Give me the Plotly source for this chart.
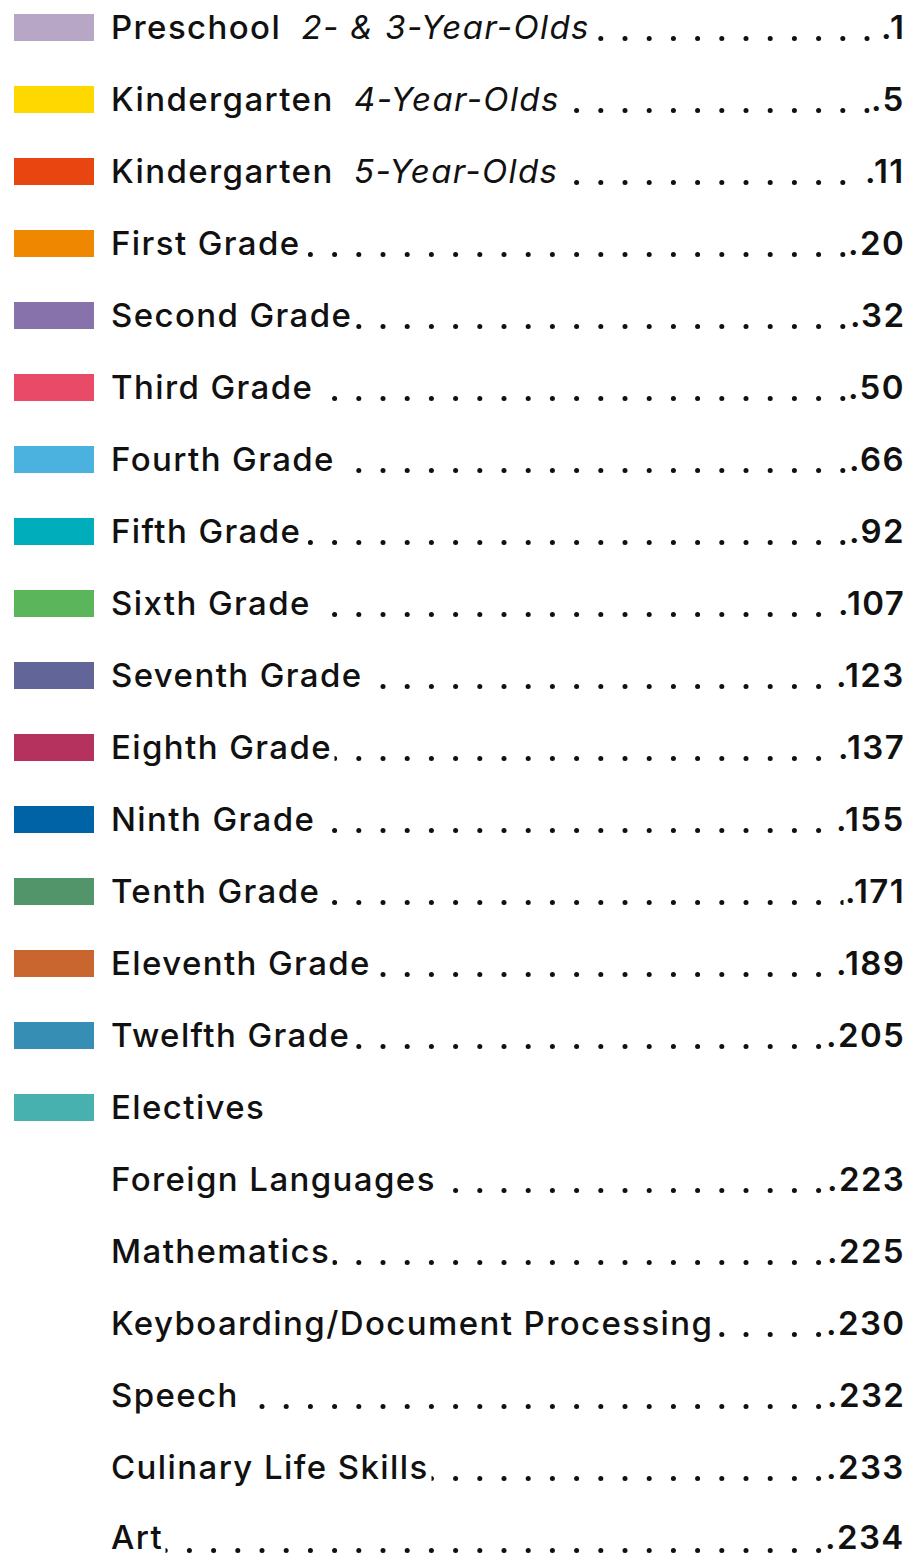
import numpy as np
import plotly.graph_objects as go

# ---- data ----
titles = ["Preschool", "Kindergarten", "Kindergarten", "First Grade", "Second Grade",
          "Third Grade", "Fourth Grade", "Fifth Grade", "Sixth Grade", "Seventh Grade",
          "Eighth Grade", "Ninth Grade", "Tenth Grade", "Eleventh Grade", "Twelfth Grade",
          "Electives", "Foreign Languages", "Mathematics", "Keyboarding/Document Processing",
          "Speech", "Culinary Life Skills", "Art"]
subtitles = ["2- &amp; 3-Year-Olds", "4-Year-Olds", "5-Year-Olds"] + [""] * 19
pages = ["1", "5", "11", "20", "32", "50", "66", "92", "107", "123", "137", "155",
         "171", "189", "205", "", "223", "225", "230", "232", "233", "234"]
swatch_colors = ["#b8a6c6", "#ffd800", "#e84510", "#f08700", "#8872ac", "#e94a68",
                 "#4bb2e0", "#00adbb", "#5bb55a", "#616598", "#b5325f", "#0063a6",
                 "#52956b", "#c9652e", "#378eb5", "#47b1b0"]

# page is offset by the default 8px body margin; coordinates below are page pixels
OFF = 8
W, H = 919, 1556
ROW = 72.0
FIRST = 27.0
TXT = "#111111"
FONT = "Inter"
FS = 33
LS = "letter-spacing:1.4px"

rows = list(range(len(titles)))
fig = go.Figure()

# colour swatches
fig.add_trace(go.Bar(
    orientation="h", y=rows[:len(swatch_colors)], x=[80] * len(swatch_colors), base=14,
    width=27 / ROW, marker=dict(color=swatch_colors, line=dict(width=0)),
    hoverinfo="skip", showlegend=False))

# leader dots (masked by the text boxes)
grid = np.arange(867, 110, -24.2)
dx, dy = [], []
for r, p in zip(rows, pages):
    if p:
        dx += list(grid)
        dy += [r + 11.5 / ROW] * len(grid)
fig.add_trace(go.Scatter(x=dx, y=dy, mode="markers",
                         marker=dict(size=5, color=TXT, line=dict(width=0)),
                         hoverinfo="skip", showlegend=False))

last = len(titles) - 1
ann = []
for r, t, s, p in zip(rows, titles, subtitles, pages):
    text = f"<span style='{LS}'>" + t
    if s:
        text += "\u00a0\u00a0</span><span style='font-weight:400;font-style:italic;" + LS + "'>" + s
    text += "</span>"
    ys = 2 if r == last else 0
    ann.append(dict(x=108, y=r, xref="x", yref="y", text=text, showarrow=False, yshift=ys,
                    xanchor="left", yanchor="middle", bgcolor="white", borderpad=2,
                    font=dict(family=FONT, size=FS, color=TXT, weight=500)))
    if p:
        ann.append(dict(x=907, y=r, xref="x", yref="y", yshift=ys,
                        text=f"<span style='{LS}'>.{p}</span>", showarrow=False,
                        xanchor="right", yanchor="middle", bgcolor="white", borderpad=1,
                        font=dict(family=FONT, size=FS, color=TXT, weight=600)))

fig.update_layout(
    width=W - OFF, height=H - OFF, margin=dict(l=0, r=0, t=0, b=0),
    paper_bgcolor="white", plot_bgcolor="white", annotations=ann, bargap=0,
    xaxis=dict(range=[OFF, W], visible=False, fixedrange=True),
    yaxis=dict(range=[(H - FIRST) / ROW, (OFF - FIRST) / ROW], visible=False, fixedrange=True),
)
fig.write_html("out.html", config={"displayModeBar": False})
